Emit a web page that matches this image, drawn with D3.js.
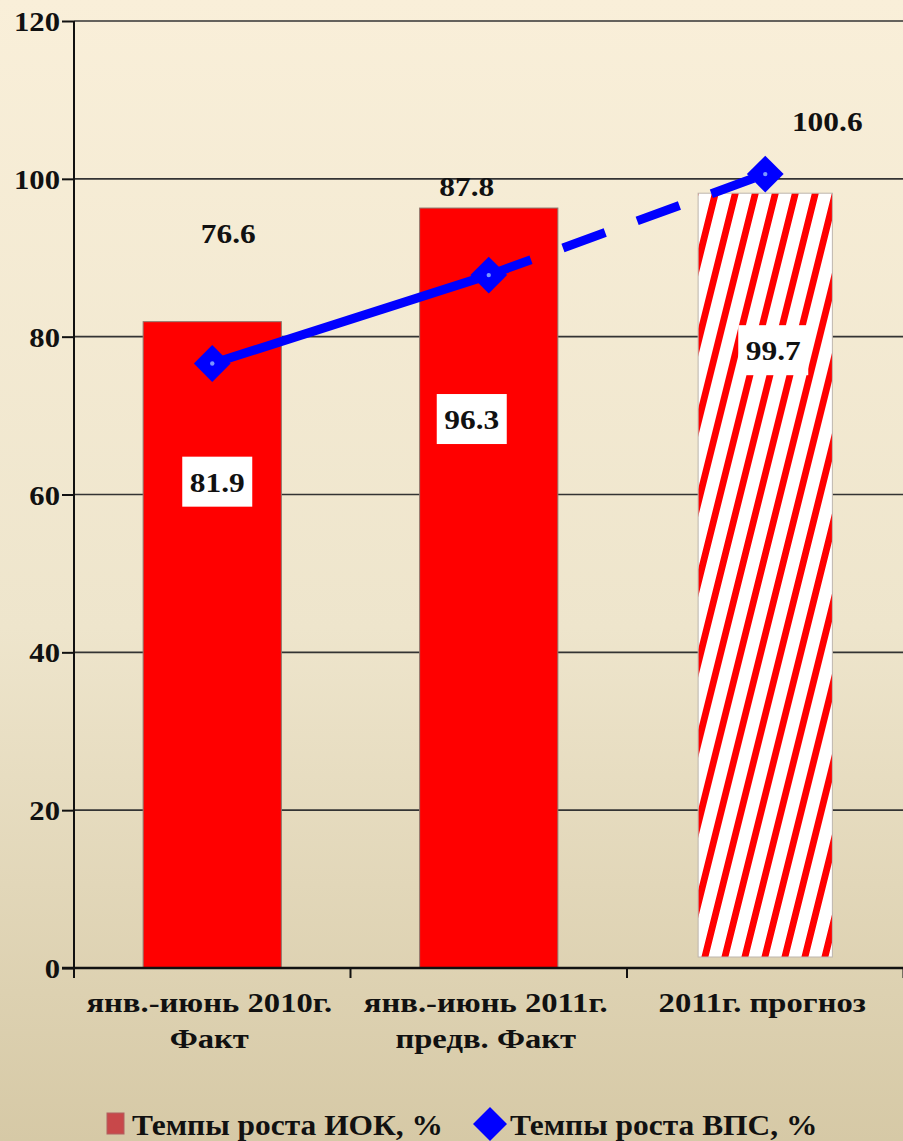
<!DOCTYPE html>
<html><head><meta charset="utf-8">
<script src="https://cdn.jsdelivr.net/npm/d3@7/dist/d3.min.js"></script>
<style>html,body{margin:0;padding:0;background:#f3e9d2}svg{display:block}</style>
</head><body>
<div id="chart"></div>
<script>
// ---- data ----
const categories = [["янв.-июнь 2010г.", "Факт"], ["янв.-июнь 2011г.", "предв. Факт"], ["2011г. прогноз"]];
const iokValues = [81.9, 96.3, 99.7];      // Темпы роста ИОК, %
const vpsValues = [76.6, 87.8, 100.6];     // Темпы роста ВПС, %
const forecastFlags = [false, false, true];
const yTicks = [0, 20, 40, 60, 80, 100, 120];
const legendLabels = ["Темпы роста ИОК, %", "Темпы роста ВПС, %"];

// ---- layout / style ----
const W = 903, H = 1141;
const M = {left: 74, right: 0, top: 21, bottom: 173};
const FONT = "'Liberation Serif','Times New Roman',serif";
const barLabelOffsets = [[5, 160], [-17, 211], [8, 169]];
const lineLabelOffsets = [[16, -120], [-22, -79], [62, -43]];
const forecastInset = 12;

const svg = d3.select("#chart").append("svg").attr("width", W).attr("height", H);
const defs = svg.append("defs");
const bg = defs.append("linearGradient").attr("id", "bg").attr("x1", 0).attr("y1", 0).attr("x2", 0).attr("y2", 1);
bg.append("stop").attr("offset", "0%").attr("stop-color", "#f9efd9");
bg.append("stop").attr("offset", "55%").attr("stop-color", "#eee5cc");
bg.append("stop").attr("offset", "100%").attr("stop-color", "#d6c9a6");
svg.append("rect").attr("width", W).attr("height", H).attr("fill", "url(#bg)");

const pat = defs.append("pattern").attr("id", "stripes").attr("patternUnits", "userSpaceOnUse")
  .attr("width", 20).attr("height", 40).attr("patternTransform", "skewX(-14)");
pat.append("rect").attr("width", 20).attr("height", 40).attr("fill", "#ffffff");
pat.append("rect").attr("x", 0).attr("width", 7).attr("height", 40).attr("fill", "#ff0000");

// horizontal scale to reach a target width for a reference string
function stretchFor(text, size, target) {
  const t = svg.append("text").attr("font-family", FONT).attr("font-weight", "bold")
    .attr("font-size", size).text(text);
  const w = t.node().getComputedTextLength();
  t.remove();
  return w > 0 ? target / w : 1;
}
const sxTick = stretchFor("120", 28, 46);
const sxVal = stretchFor("76.6", 28, 55);
const sxCat = stretchFor("янв.-июнь 2011г.", 28, 244);
const sxLeg = stretchFor(legendLabels[0], 30, 311);

const x = d3.scaleBand().domain(d3.range(categories.length))
  .range([M.left, W - M.right + 0.5]).paddingInner(0.5).paddingOuter(0.25);
const y = d3.scaleLinear().domain([0, 120]).range([H - M.bottom, M.top]);
const y0 = y(0);

// gridlines
svg.append("g").selectAll("line").data(yTicks.filter(d => d > 0)).join("line")
  .attr("x1", M.left).attr("x2", W).attr("y1", d => y(d)).attr("y2", d => y(d))
  .attr("stroke", "#333").attr("stroke-width", 1.6);

// y axis
const yAxis = svg.append("g").attr("transform", `translate(${M.left},0)`)
  .call(d3.axisLeft(y).tickValues(yTicks).tickSize(12).tickPadding(3).tickFormat(d3.format("d")));
yAxis.select(".domain").attr("stroke", "#111").attr("stroke-width", 2).attr("d", `M0,${M.top}V${y0 + 10}`);
yAxis.selectAll(".tick line").attr("stroke", "#111").attr("stroke-width", 2);
yAxis.selectAll(".tick text").attr("font-family", FONT).attr("font-weight", "bold").attr("font-size", 28)
  .attr("fill", "#111").attr("dy", "0.34em").attr("x", null).attr("text-anchor", "end")
  .attr("transform", `translate(-14,0) scale(${sxTick},1)`);

// bars
const bars = svg.append("g");
categories.forEach((c, i) => {
  const bx = x(i), bw = x.bandwidth();
  if (!forecastFlags[i]) {
    bars.append("rect").attr("x", bx).attr("y", y(iokValues[i])).attr("width", bw)
      .attr("height", y0 - y(iokValues[i])).attr("fill", "#ff0000").attr("stroke", "#8c7a70").attr("stroke-width", 1);
  } else {
    bars.append("rect").attr("x", bx + 2).attr("y", y(iokValues[i]) + forecastInset).attr("width", bw - 4)
      .attr("height", y0 - y(iokValues[i]) - 2 * forecastInset + 1)
      .attr("fill", "url(#stripes)").attr("stroke", "#bdb6ad").attr("stroke-width", 1);
  }
});

// x axis line + ticks
svg.append("line").attr("x1", M.left - 12).attr("x2", W).attr("y1", y0).attr("y2", y0)
  .attr("stroke", "#111").attr("stroke-width", 2.4);
const step = x.step();
svg.append("g").selectAll("line").data(d3.range(categories.length + 1)).join("line")
  .attr("x1", d => M.left + d * step).attr("x2", d => M.left + d * step)
  .attr("y1", y0).attr("y2", y0 + 10).attr("stroke", "#111").attr("stroke-width", 2);

// category labels
const catG = svg.append("g");
categories.forEach((lines, i) => {
  const cx = x(i) + x.bandwidth() / 2 - 3;
  lines.forEach((t, k) => {
    catG.append("text").attr("transform", `translate(${cx},${1012 + k * 36}) scale(${sxCat},1)`)
      .attr("text-anchor", "middle").attr("font-family", FONT).attr("font-weight", "bold")
      .attr("font-size", 28).attr("fill", "#111").text(t);
  });
});

// bar value labels with white boxes
const blG = svg.append("g");
iokValues.forEach((v, i) => {
  const cx = x(i) + x.bandwidth() / 2 + barLabelOffsets[i][0];
  const cy = y(v) + barLabelOffsets[i][1];
  blG.append("rect").attr("x", cx - 35).attr("y", cy - 25).attr("width", 70).attr("height", 50).attr("fill", "#fff");
  blG.append("text").attr("transform", `translate(${cx},${cy + 10}) scale(${sxVal},1)`).attr("text-anchor", "middle")
    .attr("font-family", FONT).attr("font-weight", "bold").attr("font-size", 28).attr("fill", "#111").text(v.toFixed(1));
});

// line series
const pts = vpsValues.map((v, i) => [x(i) + x.bandwidth() / 2, y(v)]);
const lineG = svg.append("g");
for (let i = 0; i < pts.length - 1; i++) {
  const dashed = forecastFlags[i + 1];
  lineG.append("path").attr("d", d3.line()([pts[i], pts[i + 1]]))
    .attr("fill", "none").attr("stroke", "#0000ff").attr("stroke-width", 9)
    .attr("stroke-dasharray", dashed ? "45,34" : null);
}
const diamond = d3.symbol().type(d3.symbolSquare).size(26 * 26);
lineG.selectAll("g.m").data(pts).join("g").attr("class", "m")
  .attr("transform", d => `translate(${d[0]},${d[1]})`)
  .each(function () {
    const g = d3.select(this);
    g.append("path").attr("d", diamond).attr("transform", "rotate(45)").attr("fill", "#0000ff");
    g.append("circle").attr("r", 2.2).attr("fill", "#7a96ff");
  });

// line value labels
svg.append("g").selectAll("text").data(vpsValues).join("text")
  .attr("transform", (v, i) => `translate(${pts[i][0] + lineLabelOffsets[i][0]},${pts[i][1] + lineLabelOffsets[i][1]}) scale(${sxVal},1)`)
  .attr("text-anchor", "middle").attr("font-family", FONT).attr("font-weight", "bold")
  .attr("font-size", 28).attr("fill", "#111").text(v => v.toFixed(1));

// legend
const lg = svg.append("g");
lg.append("rect").attr("x", 107).attr("y", 1113).attr("width", 17).attr("height", 21)
  .attr("fill", "#c8484a").attr("stroke", "#b06060").attr("stroke-width", 1);
lg.append("text").attr("transform", `translate(132,1135) scale(${sxLeg},1)`).attr("font-family", FONT).attr("font-weight", "bold")
  .attr("font-size", 30).attr("fill", "#111").text(legendLabels[0]);
lg.append("path").attr("d", d3.symbol().type(d3.symbolSquare).size(24 * 24))
  .attr("transform", "translate(490,1124) rotate(45)").attr("fill", "#0000ff");
lg.append("text").attr("transform", `translate(510,1135) scale(${sxLeg},1)`).attr("font-family", FONT).attr("font-weight", "bold")
  .attr("font-size", 30).attr("fill", "#111").text(legendLabels[1]);
</script>
</body></html>
